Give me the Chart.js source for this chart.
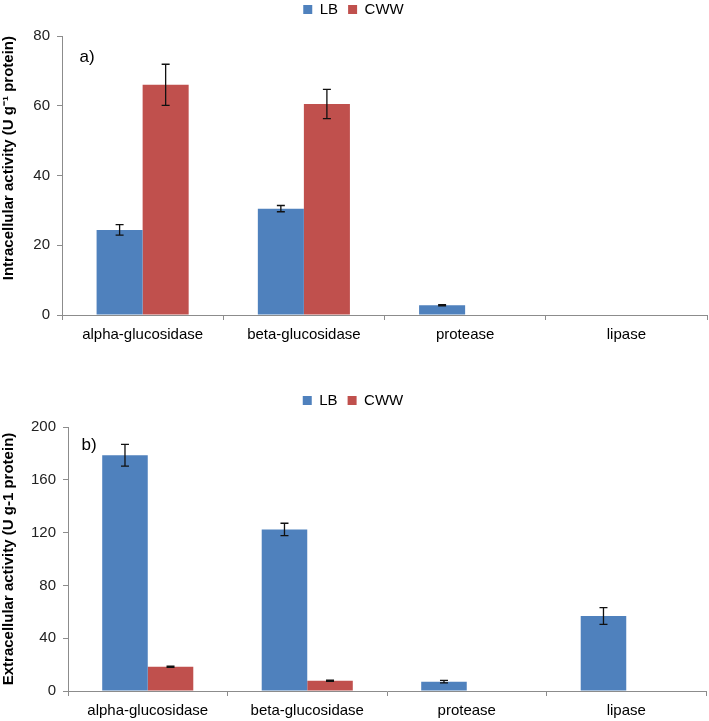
<!DOCTYPE html>
<html>
<head>
<meta charset="utf-8">
<script src="https://cdn.jsdelivr.net/npm/chart.js@4.4.1/dist/chart.umd.min.js"></script>
<style>
  html, body { margin: 0; padding: 0; background: #fff; }
  body { width: 709px; height: 721px; position: relative; overflow: hidden; }
  .panel { position: absolute; left: 0; width: 709px; }
  #wrapA { top: -8px; height: 353px; }
  #wrapB { top: 383px; height: 338px; }
</style>
</head>
<body>
<div class="panel" id="wrapA"><canvas id="chartA"></canvas></div>
<div class="panel" id="wrapB"><canvas id="chartB"></canvas></div>
<script>
const categories = ['alpha-glucosidase', 'beta-glucosidase', 'protease', 'lipase'];
const seriesNames = ['LB', 'CWW'];

// a) intracellular
const intraLB = [24.4, 30.5, 2.8, 0];
const intraLBErr = [1.5, 0.9, 0.2, 0];
const intraCWW = [66.0, 60.5, 0, 0];
const intraCWWErr = [5.9, 4.2, 0, 0];
const intraTicks = [0, 20, 40, 60, 80];

// b) extracellular
const extraLB = [178.6, 122.4, 7.1, 56.8];
const extraLBErr = [8.3, 4.7, 1.0, 6.3];
const extraCWW = [18.4, 7.8, 0, 0];
const extraCWWErr = [0.5, 0.4, 0, 0];
const extraTicks = [0, 40, 80, 120, 160, 200];

const blue = '#4F81BD';
const red = '#C0504D';
const axisGrey = '#8c8c8c';
const font = "'Liberation Sans', Arial, Helvetica, sans-serif";

const errorBars = {
    id: 'errorBars',
    afterDatasetsDraw(chart) {
        const ctx = chart.ctx;
        const y = chart.scales.y;
        ctx.save();
        ctx.strokeStyle = '#111';
        ctx.lineWidth = 1.3;
        chart.data.datasets.forEach((ds, i) => {
            const meta = chart.getDatasetMeta(i);
            meta.data.forEach((bar, j) => {
                const e = ds.errors[j];
                if (!e) return;
                const v = ds.data[j];
                const top = y.getPixelForValue(v + e);
                const bot = y.getPixelForValue(v - e);
                ctx.beginPath();
                ctx.moveTo(bar.x, top); ctx.lineTo(bar.x, bot);
                ctx.moveTo(bar.x - 4, top); ctx.lineTo(bar.x + 4, top);
                ctx.moveTo(bar.x - 4, bot); ctx.lineTo(bar.x + 4, bot);
                ctx.stroke();
            });
        });
        ctx.restore();
    }
};

// legend sits close to the top edge, extra room below it before the plot
const legendGap = {
    id: 'legendGap',
    beforeLayout(chart, args, opts) {
        const lg = chart.legend;
        if (!lg || lg._gapPatched) return;
        const fit = lg.fit.bind(lg);
        lg.fit = function () { fit(); this.height += opts.extra; };
        lg._gapPatched = true;
    }
};

const panelLabel = {
    id: 'panelLabel',
    afterDraw(chart, args, opts) {
        const ctx = chart.ctx;
        ctx.save();
        ctx.font = '17px ' + font;
        ctx.fillStyle = '#000';
        ctx.textAlign = 'center';
        ctx.textBaseline = 'middle';
        ctx.fillText(opts.text, chart.chartArea.left + opts.dx, chart.chartArea.top + opts.dy);
        ctx.restore();
    }
};

function makeChart(id, lb, lbErr, cww, cwwErr, ticks, title, titleAlign, axisWidth, rightPad, label) {
    const maxVal = ticks[ticks.length - 1];
    return new Chart(document.getElementById(id), {
        type: 'bar',
        data: {
            labels: categories,
            datasets: [
                { label: seriesNames[0], data: lb, errors: lbErr, backgroundColor: blue },
                { label: seriesNames[1], data: cww, errors: cwwErr, backgroundColor: red }
            ]
        },
        plugins: [legendGap, errorBars, panelLabel],
        options: {
            responsive: true,
            maintainAspectRatio: false,
            animation: false,
            datasets: { bar: { categoryPercentage: 0.571, barPercentage: 1.0 } },
            layout: { padding: { top: 0, right: rightPad, left: 0, bottom: 0 } },
            plugins: {
                legend: {
                    position: 'top',
                    labels: { boxWidth: 9, boxHeight: 9, padding: 10, color: '#000', font: { family: font, size: 15 } }
                },
                legendGap: { extra: 9 },
                tooltip: { enabled: false },
                panelLabel: label
            },
            scales: {
                x: {
                    grid: { offset: true, drawOnChartArea: false, drawTicks: true, tickLength: 5, color: axisGrey },
                    border: { color: axisGrey, width: 1 },
                    ticks: { color: '#000', padding: 6, maxRotation: 0, font: { family: font, size: 15 } },
                    afterFit(scale) { scale.height = 30; }
                },
                y: {
                    min: 0,
                    max: maxVal,
                    afterBuildTicks(scale) { scale.ticks = ticks.map(v => ({ value: v })); },
                    grid: { drawOnChartArea: false, drawTicks: true, tickLength: 5, color: axisGrey },
                    border: { color: axisGrey, width: 1 },
                    ticks: { color: '#222', padding: 7, font: { family: font, size: 15 } },
                    title: {
                        display: true,
                        text: title,
                        align: titleAlign,
                        color: '#000',
                        padding: { top: 0, bottom: 0 },
                        font: { family: font, size: 15, weight: 'bold' }
                    },
                    afterFit(scale) { scale.width = axisWidth; }
                }
            }
        }
    });
}

makeChart('chartA', intraLB, intraLBErr, intraCWW, intraCWWErr, intraTicks,
    'Intracellular activity (U g\u207B\u00B9 protein)', 'end', 62, 2, { text: 'a)', dx: 25, dy: 21 });
makeChart('chartB', extraLB, extraLBErr, extraCWW, extraCWWErr, extraTicks,
    'Extracellular activity (U g-1 protein)', 'center', 68, 3, { text: 'b)', dx: 21, dy: 18 });
</script>
</body>
</html>
